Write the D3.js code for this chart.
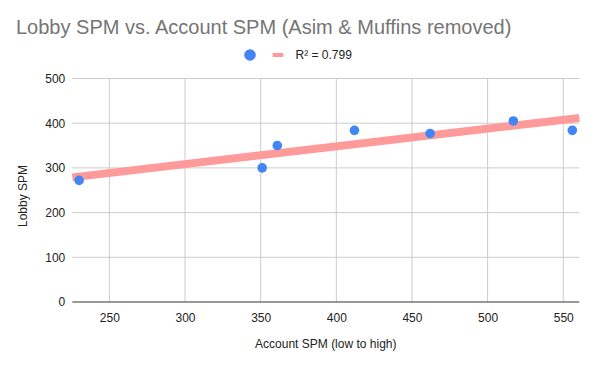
<!DOCTYPE html>
<html><head><meta charset="utf-8">
<script src="https://cdn.jsdelivr.net/npm/d3@7"></script>
<style>body{margin:0;background:#fff;}svg{display:block;font-family:"Liberation Sans",Arial,sans-serif;}</style>
</head><body>
<svg id="c" width="596" height="368"></svg>
<script>
const accountSPM = [230, 351, 361, 412, 462, 517, 556];
const lobbySPM   = [272, 300, 350, 384, 377, 405, 384];
const xTicks = [250, 300, 350, 400, 450, 500, 550];
const yTicks = [0, 100, 200, 300, 400, 500];
const titleText = "Lobby SPM vs. Account SPM (Asim & Muffins removed)";
const trendLabel = "R² = 0.799";
const xLabel = "Account SPM (low to high)";
const yLabel = "Lobby SPM";

const svg = d3.select("#c");
const L = 72.3, R = 579.3, T = 78.5, B = 302;
const x = d3.scaleLinear().domain([225.5, 560.6]).range([L, R]);
const y = d3.scaleLinear().domain([0, 500]).range([B, T]);

// gridlines
svg.append("g").selectAll("line").data(yTicks.filter(d=>d>0)).join("line")
  .attr("x1", L).attr("x2", R).attr("y1", d=>y(d)).attr("y2", d=>y(d))
  .attr("stroke", "#cccccc").attr("stroke-width", 1);
svg.append("g").selectAll("line").data(xTicks).join("line")
  .attr("x1", d=>x(d)).attr("x2", d=>x(d)).attr("y1", T).attr("y2", B)
  .attr("stroke", "#cccccc").attr("stroke-width", 1);

// axes
const xAxis = d3.axisBottom(x).tickValues(xTicks).tickSize(0).tickPadding(11);
const gx = svg.append("g").attr("transform", `translate(0,${B})`).call(xAxis);
gx.select(".domain").remove();
gx.selectAll("text").attr("font-size", 12).attr("fill", "#222").attr("font-family", "Liberation Sans, Arial, sans-serif");
const yAxis = d3.axisLeft(y).tickValues(yTicks).tickSize(0).tickPadding(7);
const gy = svg.append("g").attr("transform", `translate(${L},0)`).call(yAxis);
gy.select(".domain").remove();
gy.selectAll("text").attr("font-size", 12).attr("fill", "#222").attr("font-family", "Liberation Sans, Arial, sans-serif");

// baseline
svg.append("line").attr("x1", L).attr("x2", R).attr("y1", y(0)).attr("y2", y(0))
  .attr("stroke", "#333").attr("stroke-width", 1);

// trendline (least squares)
const n = accountSPM.length;
const mx = d3.mean(accountSPM), my = d3.mean(lobbySPM);
let sxy = 0, sxx = 0;
for (let i = 0; i < n; i++) { sxy += (accountSPM[i]-mx)*(lobbySPM[i]-my); sxx += (accountSPM[i]-mx)**2; }
const slope = sxy / sxx, intercept = my - slope*mx;
const [d0, d1] = x.domain();
svg.append("line")
  .attr("x1", x(d0)).attr("y1", y(intercept + slope*d0))
  .attr("x2", x(d1)).attr("y2", y(intercept + slope*d1))
  .attr("stroke", "#ff9a9a").attr("stroke-width", 8);

// points
svg.append("g").selectAll("circle").data(accountSPM.map((v,i)=>[v, lobbySPM[i]])).join("circle")
  .attr("cx", d=>x(d[0])).attr("cy", d=>y(d[1])).attr("r", 4.8).attr("fill", "#4285f4");

// title
svg.append("text").attr("x", 16).attr("y", 33.5).attr("font-size", 20).attr("fill", "#757575").text(titleText);

// legend
svg.append("circle").attr("cx", 250).attr("cy", 55).attr("r", 5.8).attr("fill", "#4285f4");
svg.append("line").attr("x1", 272.7).attr("x2", 283.3).attr("y1", 55).attr("y2", 55).attr("stroke", "#ff9a9a").attr("stroke-width", 4);
svg.append("text").attr("x", 295.5).attr("y", 59.3).attr("font-size", 12).attr("fill", "#222").text(trendLabel);

// axis titles
svg.append("text").attr("x", (L+R)/2).attr("y", 347.5).attr("text-anchor", "middle").attr("font-size", 12).attr("fill", "#222").text(xLabel);
svg.append("text").attr("transform", `translate(27,196) rotate(-90)`).attr("text-anchor", "middle").attr("font-size", 12).attr("fill", "#222").text(yLabel);
</script>
</body></html>
